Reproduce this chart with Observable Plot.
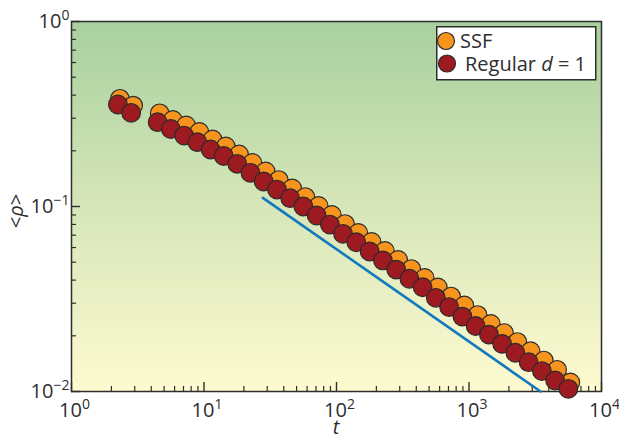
<!DOCTYPE html>
<html>
<head>
<meta charset="utf-8">
<script src="https://cdn.jsdelivr.net/npm/d3@7"></script>
<script src="https://cdn.jsdelivr.net/npm/@observablehq/plot@0.6"></script>
<style>
  body { margin: 0; background: #fff; font-family: "Open Sans", sans-serif; }
  #wrap { position: relative; width: 619px; height: 440px; }
  #legend { position: absolute; left: 436px; top: 26px; }
</style>
</head>
<body>
<div id="wrap"></div>
<script>
// ---- Data ----
const tMajor = [1, 10, 100, 1000, 10000];
const tExp = ["0", "1", "2", "3", "4"];
const tMinor = [2,3,4,5,6,7,8,9, 20,30,40,50,60,70,80,90, 200,300,400,500,600,700,800,900, 2000,3000,4000,5000,6000,7000,8000,9000];
const rhoMajor = [0.01, 0.1, 1];
const rhoExp = ["\u22122", "\u22121", "0"];
const rhoMinor = [0.02,0.03,0.04,0.05,0.06,0.07,0.08,0.09, 0.2,0.3,0.4,0.5,0.6,0.7,0.8,0.9];

const seriesNames = ["SSF", "Regular"];

const tRegular = [2.24, 2.82, 4.47, 5.62, 7.08, 8.91, 11.2, 14.1, 17.8, 22.4, 28.2, 35.5, 44.7, 56.2, 70.8, 89.1, 112, 141, 178, 224, 282, 355, 447, 562, 708, 891, 1122, 1413, 1778, 2239, 2818, 3548, 4467, 5623];
const rhoRegular = [0.356, 0.321, 0.2856, 0.2623, 0.2419, 0.2227, 0.2033, 0.1875, 0.1701, 0.1521, 0.1365, 0.1235, 0.1109, 0.1000, 0.0894, 0.0799, 0.0712, 0.0641, 0.0571, 0.0511, 0.0456, 0.0407, 0.0366, 0.0321, 0.0286, 0.0254, 0.0226, 0.0203, 0.0181, 0.0162, 0.0144, 0.0129, 0.01147, 0.01034];

const tSSF = [2.32, 2.92, 4.63, 5.82, 7.33, 9.22, 11.6, 14.6, 18.4, 23.2, 29.2, 36.7, 46.3, 58.2, 73.3, 92.2, 116, 146, 184, 232, 292, 367, 463, 582, 733, 922, 1161, 1462, 1840, 2317, 2917, 3672, 4623, 5820];
const rhoSSF = [0.382, 0.351, 0.319, 0.2935, 0.274, 0.2527, 0.2303, 0.2111, 0.1910, 0.1718, 0.1546, 0.1390, 0.1251, 0.1125, 0.1006, 0.0900, 0.0804, 0.0719, 0.0643, 0.0575, 0.0514, 0.0459, 0.0411, 0.0365, 0.0326, 0.0292, 0.0259, 0.0232, 0.0207, 0.0185, 0.0165, 0.0147, 0.0131, 0.0112];

const fitT = [27.8, 3467];
const fitRho = [0.1114, 0.0100];

// ---- Tables ----
const regular = tRegular.map((t, i) => ({t, rho: rhoRegular[i]}));
const ssf = tSSF.map((t, i) => ({t, rho: rhoSSF[i]}));
const fit = fitT.map((t, i) => ({t, rho: fitRho[i]}));

const ink = "#2e2e2e";
const plot = Plot.plot({
  width: 619,
  height: 440,
  marginLeft: 71,
  marginRight: 18,
  marginTop: 21,
  marginBottom: 49,
  style: { fontFamily: "'Open Sans', sans-serif", background: "transparent", color: ink, overflow: "visible" },
  x: { type: "log", domain: [1, 10000] },
  y: { type: "log", domain: [0.01, 1] },
  marks: [
    Plot.frame({ fill: "url(#bgGrad)", stroke: null }),
    Plot.axisX({ ticks: tMinor, tickSize: -5, tickFormat: () => "", stroke: ink, strokeWidth: 1.2, label: null }),
    Plot.axisX({ ticks: tMajor, tickSize: -9, tickFormat: () => "", stroke: ink, strokeWidth: 1.4, label: null }),
    Plot.axisX({ ticks: tMajor, tickSize: 0, tickPadding: 11, dx: 3, fontSize: 20, fill: ink,
      tickFormat: d => "10^" + tExp[tMajor.indexOf(d)], label: null }),
    Plot.axisY({ ticks: rhoMinor, tickSize: -5, tickFormat: () => "", stroke: ink, strokeWidth: 1.2, label: null }),
    Plot.axisY({ ticks: rhoMajor, tickSize: -9, tickFormat: () => "", stroke: ink, strokeWidth: 1.4, label: null }),
    Plot.axisY({ ticks: rhoMajor, tickSize: 0, tickPadding: 2, fontSize: 20, fill: ink,
      tickFormat: d => "10^" + rhoExp[rhoMajor.indexOf(d)], label: null }),
    Plot.frame({ stroke: ink, strokeWidth: 1.5 }),
    Plot.line(fit, { x: "t", y: "rho", stroke: "#1279bf", strokeWidth: 2.6 }),
    Plot.dot(ssf, { x: "t", y: "rho", r: 9.3, fill: "#f7941d", stroke: "#2b2b2b", strokeWidth: 1.2 }),
    Plot.dot(regular, { x: "t", y: "rho", r: 9.3, fill: "#9d1b20", stroke: "#2b2b2b", strokeWidth: 1.2 })
  ]
});

const svg = d3.select(plot);
// background gradient
const grad = svg.insert("defs", ":first-child").append("linearGradient")
  .attr("id", "bgGrad").attr("x1", 0).attr("y1", 0).attr("x2", 0).attr("y2", 1);
grad.append("stop").attr("offset", "0%").attr("stop-color", "#a8d09e");
grad.append("stop").attr("offset", "45%").attr("stop-color", "#d2e4b6");
grad.append("stop").attr("offset", "100%").attr("stop-color", "#fefad0");

// superscript tick labels
svg.selectAll("text").each(function () {
  const s = this.textContent;
  if (!s || s.indexOf("^") < 0) return;
  const [b, e] = s.split("^");
  const sel = d3.select(this);
  sel.text(null);
  sel.append("tspan").text(b);
  sel.append("tspan").attr("dy", "-8").attr("font-size", "14").text(e);
});

// axis titles
svg.append("text")
  .attr("transform", "translate(23,211) rotate(-90)")
  .attr("text-anchor", "middle")
  .attr("font-size", 20).attr("fill", ink)
  .call(t => {
    t.append("tspan").text("<");
    t.append("tspan").attr("font-style", "italic").text("\u03c1");
    t.append("tspan").text(">");
  });
svg.append("text")
  .attr("x", 336).attr("y", 434)
  .attr("text-anchor", "middle")
  .attr("font-size", 20).attr("font-style", "italic").attr("fill", ink)
  .text("t");

document.getElementById("wrap").appendChild(plot);

// legend (HTML overlay)
const legend = d3.select("#wrap").append("svg").attr("id", "legend")
  .attr("width", 161).attr("height", 55);
legend.append("rect").attr("x", 0.75).attr("y", 0.75).attr("width", 159).attr("height", 53)
  .attr("fill", "#fff").attr("stroke", ink).attr("stroke-width", 1.5);
const items = [
  { name: seriesNames[0], color: "#f7941d", cx: 10, cy: 15, tx: 24, ty: 22 },
  { name: seriesNames[1], color: "#9d1b20", cx: 11, cy: 37.5, tx: 29, ty: 45 }
];
items.forEach(it => {
  legend.append("circle").attr("cx", it.cx).attr("cy", it.cy).attr("r", 8.5)
    .attr("fill", it.color).attr("stroke", "#2b2b2b").attr("stroke-width", 1.2);
  const tx = legend.append("text").attr("x", it.tx).attr("y", it.ty)
    .attr("font-size", 20).attr("fill", ink).attr("font-family", "'Open Sans', sans-serif");
  if (it.name === "Regular") {
    tx.append("tspan").text("Regular ");
    tx.append("tspan").attr("font-style", "italic").text("d");
    tx.append("tspan").text(" = 1");
  } else {
    tx.text(it.name);
  }
});
</script>
</body>
</html>
